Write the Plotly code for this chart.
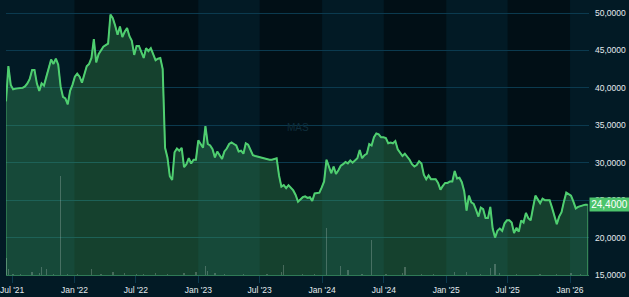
import pandas as pd
import plotly.graph_objects as go

# ---------------- data ----------------
START_DATE = "2021-06-13"          # first weekly observation
RANGE_END = "2026-02-26"
Y_MIN, Y_MAX = 15, 51.74
LAST_LABEL = "24,4000"
WATERMARK = "MAS"

price = [
    38.2, 42.9, 40.4, 39.8, 39.9, 39.9, 40.0, 40.0, 40.2, 40.6,
    41.2, 42.4, 42.4, 40.6, 39.6, 40.6, 40.3, 41.6, 42.8, 43.8,
    43.2, 43.9, 43.1, 40.2, 38.8, 38.6, 37.8, 39.6, 40.4, 41.5,
    41.9, 41.5, 40.7, 41.8, 42.9, 43.2, 44.0, 46.5, 43.4, 44.5,
    45.0, 45.5, 45.7, 45.9, 49.8, 49.3, 48.3, 47.1, 48.2, 46.8,
    47.5, 48.0, 46.9, 46.3, 44.4, 45.6, 45.6, 44.9, 44.0, 45.3,
    44.9, 45.3, 44.5, 43.7, 43.9, 44.0, 42.5, 32.0, 30.7, 28.2,
    27.7, 31.4, 31.9, 31.6, 32.0, 29.4, 29.8, 30.6, 29.9, 30.4,
    30.4, 33.0, 32.5, 32.0, 34.9, 32.5, 32.3, 31.8, 30.7, 31.5,
    31.0, 30.5, 31.5, 31.9, 32.5, 32.7, 32.5, 32.3, 31.5, 31.6,
    31.2, 32.6, 32.4, 31.6, 31.0, 30.9, 30.8, 30.7, 30.6, 30.5,
    30.5, 30.4, 30.4, 30.5, 30.6, 28.3, 26.8, 27.0, 26.6, 27.0,
    26.6, 26.3, 25.7, 24.8, 25.1, 25.4, 25.5, 25.3, 25.4, 24.9,
    25.9, 26.0, 26.0, 26.7, 27.5, 30.4, 29.5, 28.6, 29.5, 28.5,
    29.0, 29.6, 29.8, 30.1, 29.9, 30.3, 30.0, 30.3, 30.6, 31.7,
    30.6, 31.0, 31.2, 32.5, 32.3, 33.4, 33.9, 33.8, 33.4, 33.4,
    33.3, 32.6, 32.7, 32.6, 32.9, 31.8, 31.4, 30.9, 31.2, 30.8,
    30.4, 29.8, 29.5, 29.7, 30.2, 29.9, 28.4, 27.8, 28.3, 27.8,
    27.8, 27.8, 27.3, 26.4, 26.9, 27.3, 27.3, 27.5, 27.5, 28.9,
    27.9, 28.0, 27.4, 26.2, 23.6, 25.6, 24.7, 24.5, 23.7, 22.8,
    24.0, 23.8, 22.6, 22.6, 24.1, 21.2, 20.0, 20.9, 21.2, 20.9,
    21.9, 22.3, 22.3, 22.0, 20.6, 21.3, 20.8, 22.3, 22.0, 23.3,
    22.6, 22.3, 24.0, 25.6, 25.1, 24.6, 25.2, 25.0, 25.0, 25.0,
    24.0, 23.0, 21.8, 22.8, 23.4, 24.8, 26.0, 25.8, 25.6, 24.8,
    23.9, 24.1, 24.2, 24.4, 24.4, 24.4,
]

# volume: week index -> volume (thousands of shares)
vol_week = [0, 1, 3, 6, 11, 14, 15, 17, 20, 23, 26, 30, 36, 40, 45, 50, 55, 58,
            63, 68, 75, 80, 84, 85, 88, 92, 100, 110, 116, 117, 125, 130, 135,
            141, 144, 150, 154, 160, 167, 168, 175, 180, 189, 194, 200, 204,
            206, 208, 215, 225, 232, 238, 242]
vol_val = [170, 57, 10, 12, 30, 25, 80, 60, 10, 990, 12, 10, 60, 12, 30, 25, 10,
           12, 25, 10, 25, 30, 90, 40, 20, 10, 10, 12, 35, 97, 10, 12, 470,
           95, 50, 10, 350, 10, 25, 85, 10, 12, 35, 27, 10, 67,
           107, 25, 10, 10, 12, 20, 10]

dates = pd.date_range(START_DATE, periods=len(price), freq="7D")
vol_dates = [dates[i] for i in vol_week]

# ---------------- style ----------------
LINE = "#4fce70"
FILL = "rgba(76,204,110,0.27)"
PAPER = "#021a25"
DARK = "#010f16"
LIGHT = "#021a25"
GRID = "#0b3a4f"
TXT = "#e4eaee"
FONT = "Liberation Sans, Arial, sans-serif"

fig = go.Figure()

# alternating half-year background bands
band_edges = ["2022-01-01", "2022-07-01", "2023-01-01", "2023-07-01", "2024-01-01",
              "2024-07-01", "2025-01-01", "2025-07-01", "2026-01-01"]
edges = [dates[0]] + [pd.Timestamp(e) for e in band_edges] + [pd.Timestamp(RANGE_END)]
light_idx = [0, 3, 5, 7, 9]
for i in range(len(edges) - 1):
    if i in light_idx:
        fig.add_shape(type="rect", xref="x", yref="paper", x0=edges[i], x1=edges[i + 1],
                      y0=0, y1=1, fillcolor=LIGHT, line_width=0, layer="below")

# area fill (closed polygon so edges are outlined)
fig.add_trace(go.Scatter(
    x=[dates[0]] + list(dates) + [dates[-1]],
    y=[Y_MIN] + price + [Y_MIN],
    mode="lines", fill="toself", fillcolor=FILL,
    line=dict(color="rgba(90,200,120,0.55)", width=1.2),
    hoverinfo="skip", showlegend=False))

# volume bars
fig.add_trace(go.Bar(
    x=vol_dates, y=vol_val, yaxis="y2",
    marker=dict(color="rgba(200,215,210,0.28)", line_width=0),
    width=4 * 86400000, showlegend=False))

# price line
fig.add_trace(go.Scatter(
    x=dates, y=price, mode="lines",
    line=dict(color=LINE, width=2), showlegend=False))

fig.add_annotation(x=0.5, y=0.535, xref="paper", yref="paper", text=WATERMARK,
                   showarrow=False, font=dict(family=FONT, size=10, color="#0f2d3b"))

fig.add_annotation(x=1, y=price[-1], xref="paper", yref="y", xanchor="left",
                   text=LAST_LABEL, showarrow=False, bgcolor="#4cc46c",
                   font=dict(family=FONT, size=10, color="#ffffff"),
                   borderpad=1, height=11, width=37)

fig.update_layout(
    width=629, height=297,
    margin=dict(l=3, r=40, t=0, b=22),
    paper_bgcolor=PAPER, plot_bgcolor=DARK,
    separators=",.",
    bargap=0,
    xaxis=dict(type="date", range=[dates[0], RANGE_END], showgrid=False,
               tickformat="%b '%y", dtick="M6", tick0="2021-07-01",
               ticks="outside", ticklen=7, tickcolor="#0c3a4e",
               ticklabeloverflow="allow",
               tickfont=dict(family=FONT, size=8.5, color=TXT),
               showline=True, linecolor="#2f7a56", linewidth=1,
               zeroline=False, fixedrange=True),
    yaxis=dict(side="right", range=[Y_MIN, Y_MAX], dtick=5, tick0=15,
               tickformat=".4f", showgrid=True, gridcolor=GRID, gridwidth=1,
               tickfont=dict(family=FONT, size=8.5, color=TXT),
               ticklabelstandoff=5, zeroline=False, showline=False),
    yaxis2=dict(overlaying="y", range=[0, 2750], visible=False, fixedrange=True),
    font=dict(family=FONT),
)

fig.write_html("out.html")
